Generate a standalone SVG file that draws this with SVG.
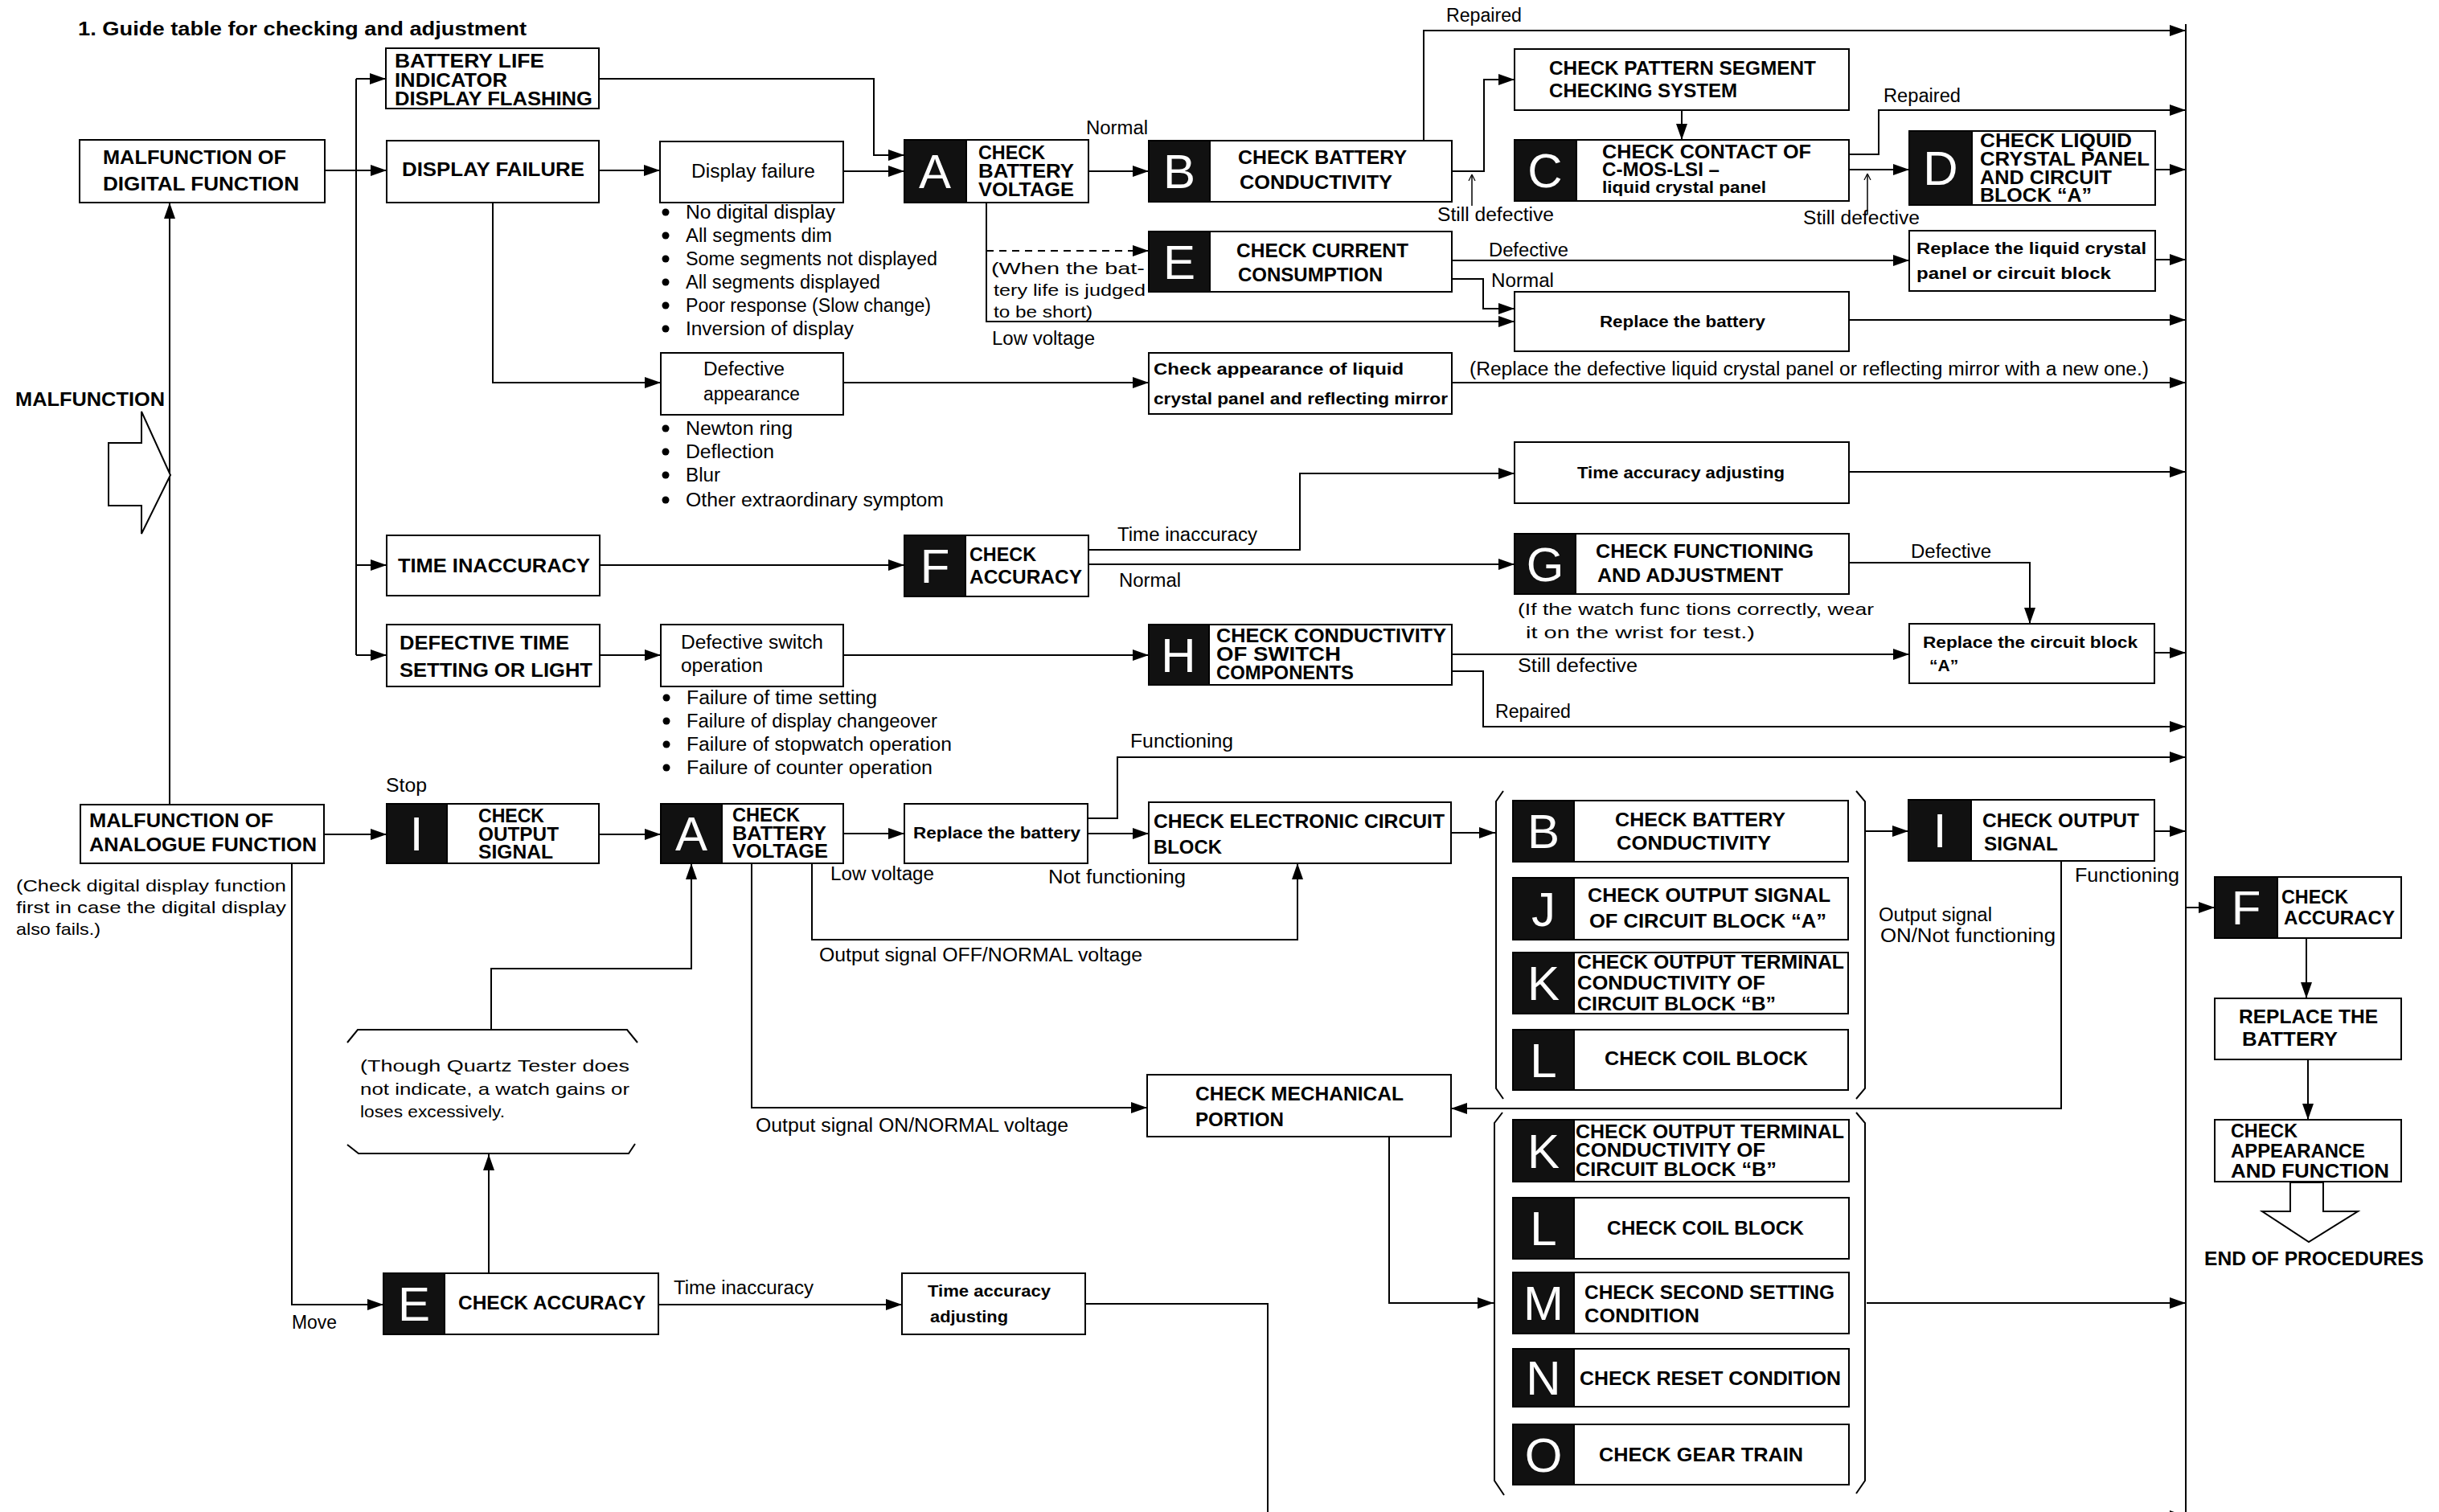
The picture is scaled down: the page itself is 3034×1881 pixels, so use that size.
<svg xmlns="http://www.w3.org/2000/svg" width="3034" height="1881" viewBox="0 0 3034 1881">
<defs>
<marker id="ar" viewBox="0 0 20 14" refX="20" refY="7" markerWidth="20" markerHeight="14" markerUnits="userSpaceOnUse" orient="auto"><path d="M0,0 L20,7 L0,14 z" fill="#000"/></marker>
<marker id="sm" viewBox="0 0 10 10" refX="10" refY="5" markerWidth="8" markerHeight="10" markerUnits="userSpaceOnUse" orient="auto"><path d="M0,0 L10,5 L0,10" fill="none" stroke="#000" stroke-width="1.5"/></marker>
</defs>
<style>
.box{fill:#fff;stroke:#000;stroke-width:2}
.blk{fill:#111;stroke:#000;stroke-width:2}
.ln{fill:none;stroke:#000;stroke-width:2}
.ar{marker-end:url(#ar)}
.dash{stroke-dasharray:9 7}
.b{font-family:"Liberation Sans",Arial,sans-serif;font-weight:bold;font-size:23px;fill:#000}
.r{font-family:"Liberation Sans",Arial,sans-serif;font-size:23px;fill:#000}
.s{font-size:21px}
.lt{font-family:"Liberation Sans",Arial,sans-serif;font-size:60px;fill:#fff;text-anchor:middle}
.hollow{fill:#fff;stroke:#000;stroke-width:2}
</style>
<rect width="3034" height="1881" fill="#fff"/>

<g id="title"><text class="b" x="97" y="44" font-size="25" textLength="558" lengthAdjust="spacingAndGlyphs">1.  Guide table for checking and adjustment</text></g>

<g id="connectors">
<path class="ln" d="M2719,30 V1881"/>
<path class="ln" d="M443,98 V815"/>
<path class="ln ar" d="M443,98 H480"/>
<path class="ln ar" d="M404,212 H481"/>
<path class="ln ar" d="M443,703 H481"/>
<path class="ln ar" d="M443,815 H481"/>
<path class="ln ar" d="M745,98 H1087 V193 H1125"/>
<path class="ln ar" d="M745,212 H821"/>
<path class="ln ar" d="M1049,213 H1125"/>
<path class="ln ar" d="M613,252 V476 H822"/>
<path class="ln ar" d="M1049,476 H1429"/>
<path class="ln ar" d="M1806,476 H2719"/>
<path class="ln ar" d="M1354,213 H1429"/>
<path class="ln ar" d="M1771,175 V38 H2719"/>
<path class="ln ar" d="M1806,213 H1846 V99 H1884"/>
<path class="ln" style="stroke-width:1.5;marker-end:url(#sm)" d="M1831,256 V217"/>
<path class="ln ar" d="M2092,137 V174"/>
<path class="ln ar" d="M2300,192 H2337 V137 H2719"/>
<path class="ln ar" d="M2300,211 H2375"/>
<path class="ln" style="stroke-width:1.5;marker-end:url(#sm)" d="M2323,266 V216"/>
<path class="ln ar" d="M2681,211 H2719"/>
<path class="ln ar" d="M1227,252 V400 H1884"/>
<path class="ln ar dash" d="M1227,312 H1429"/>
<path class="ln ar" d="M1806,324 H2375"/>
<path class="ln ar" d="M1806,347 H1845 V384 H1884"/>
<path class="ln ar" d="M2681,323 H2719"/>
<path class="ln ar" d="M2300,398 H2719"/>
<path class="ln ar" d="M2300,587 H2719"/>
<path class="ln ar" d="M746,703 H1125"/>
<path class="ln ar" d="M1354,684 H1617 V589 H1884"/>
<path class="ln ar" d="M1354,702 H1884"/>
<path class="ln ar" d="M2300,700 H2525 V776"/>
<path class="ln ar" d="M2680,812 H2719"/>
<path class="ln ar" d="M746,815 H822"/>
<path class="ln ar" d="M1049,815 H1429"/>
<path class="ln ar" d="M1806,814 H2375"/>
<path class="ln ar" d="M1806,835 H1845 V904 H2719"/>
<path class="ln ar" d="M1353,1018 H1390 V942 H2719"/>
<path class="ln ar" d="M211,1001 V252"/>
<path class="ln ar" d="M403,1038 H481"/>
<path class="ln ar" d="M745,1038 H822"/>
<path class="ln ar" d="M1049,1037 H1125"/>
<path class="ln ar" d="M1353,1037 H1429"/>
<path class="ln ar" d="M1010,1074 V1169 H1614 V1074"/>
<path class="ln ar" d="M935,1074 V1378 H1427"/>
<path class="ln ar" d="M1805,1036 H1860"/>
<path class="ln ar" d="M2321,1034 H2374"/>
<path class="ln ar" d="M2680,1034 H2719"/>
<path class="ln ar" d="M2564,1071 V1379 H1805"/>
<path class="ln ar" d="M1728,1414 V1621 H1858"/>
<path class="ln ar" d="M2322,1621 H2719"/>
<path class="ln ar" d="M2719,1129 H2755"/>
<path class="ln ar" d="M2869,1167 V1242"/>
<path class="ln ar" d="M2871,1318 V1393"/>
<path class="ln ar" d="M363,1074 V1623 H477"/>
<path class="ln ar" d="M608,1584 V1436"/>
<path class="ln ar" d="M611,1281 V1205 H860 V1074"/>
<path class="ln ar" d="M819,1623 H1122"/>
<path class="ln ar" d="M1350,1622 H1577 V1886 H2719"/>
</g>

<g id="labels">
<text class="r" x="1351" y="167" textLength="77" lengthAdjust="spacingAndGlyphs">Normal</text>
<text class="r" x="1799" y="27" textLength="94" lengthAdjust="spacingAndGlyphs">Repaired</text>
<text class="r" x="1788" y="275" textLength="145" lengthAdjust="spacingAndGlyphs">Still defective</text>
<text class="r" x="2343" y="127" textLength="96" lengthAdjust="spacingAndGlyphs">Repaired</text>
<text class="r" x="2243" y="279" textLength="145" lengthAdjust="spacingAndGlyphs">Still defective</text>
<text class="r" x="1852" y="319" textLength="99" lengthAdjust="spacingAndGlyphs">Defective</text>
<text class="r" x="1855" y="357" textLength="78" lengthAdjust="spacingAndGlyphs">Normal</text>
<text class="r" x="1234" y="429" textLength="128" lengthAdjust="spacingAndGlyphs">Low voltage</text>
<text class="r s" x="1233" y="341" textLength="191" lengthAdjust="spacingAndGlyphs">(When  the  bat-</text>
<text class="r s" x="1236" y="368" textLength="189" lengthAdjust="spacingAndGlyphs">tery life is judged</text>
<text class="r s" x="1236" y="395" textLength="123" lengthAdjust="spacingAndGlyphs">to be short)</text>
<text class="r" x="1828" y="467" textLength="845" lengthAdjust="spacingAndGlyphs">(Replace the defective liquid crystal panel or reflecting mirror with a new one.)</text>
<text class="r" x="1390" y="673" textLength="174" lengthAdjust="spacingAndGlyphs">Time inaccuracy</text>
<text class="r" x="1392" y="730" textLength="77" lengthAdjust="spacingAndGlyphs">Normal</text>
<text class="r" x="2377" y="694" textLength="100" lengthAdjust="spacingAndGlyphs">Defective</text>
<text class="r s" x="1888" y="765" textLength="443" lengthAdjust="spacingAndGlyphs">(If  the  watch  func tions correctly, wear</text>
<text class="r s" x="1898" y="794" textLength="285" lengthAdjust="spacingAndGlyphs">it  on  the  wrist  for  test.)</text>
<text class="r" x="1888" y="836" textLength="149" lengthAdjust="spacingAndGlyphs">Still defective</text>
<text class="r" x="1860" y="893" textLength="94" lengthAdjust="spacingAndGlyphs">Repaired</text>
<text class="r" x="1406" y="930" textLength="128" lengthAdjust="spacingAndGlyphs">Functioning</text>
<text class="r" x="480" y="985" textLength="51" lengthAdjust="spacingAndGlyphs">Stop</text>
<text class="r" x="1033" y="1095" textLength="129" lengthAdjust="spacingAndGlyphs">Low voltage</text>
<text class="r" x="1304" y="1099" textLength="171" lengthAdjust="spacingAndGlyphs">Not functioning</text>
<text class="r" x="1019" y="1196" textLength="402" lengthAdjust="spacingAndGlyphs">Output signal OFF/NORMAL voltage</text>
<text class="r" x="940" y="1408" textLength="389" lengthAdjust="spacingAndGlyphs">Output signal ON/NORMAL voltage</text>
<text class="r" x="2581" y="1097" textLength="130" lengthAdjust="spacingAndGlyphs">Functioning</text>
<text class="r" x="2337" y="1146" textLength="141" lengthAdjust="spacingAndGlyphs">Output signal</text>
<text class="r" x="2339" y="1172" textLength="218" lengthAdjust="spacingAndGlyphs">ON/Not functioning</text>
<text class="r" x="363" y="1653" textLength="56" lengthAdjust="spacingAndGlyphs">Move</text>
<text class="r" x="838" y="1610" textLength="174" lengthAdjust="spacingAndGlyphs">Time inaccuracy</text>
</g>

<g id="n_malfunction">
<text class="b" x="19" y="505" textLength="186" lengthAdjust="spacingAndGlyphs">MALFUNCTION</text>
<polygon class="hollow" points="135,551 176,551 176,512 212,591 176,664 176,629 135,629"/>
</g>

<g id="n_batlife">
<rect class="box" x="480" y="60" width="265" height="75"/>
<text class="b" x="491" y="84" textLength="186" lengthAdjust="spacingAndGlyphs">BATTERY LIFE</text>
<text class="b" x="491" y="108" textLength="140" lengthAdjust="spacingAndGlyphs">INDICATOR</text>
<text class="b" x="491" y="131" textLength="246" lengthAdjust="spacingAndGlyphs">DISPLAY FLASHING</text>
</g>

<g id="n_digital">
<rect class="box" x="99" y="174" width="305" height="78"/>
<text class="b" x="128" y="204" textLength="228" lengthAdjust="spacingAndGlyphs">MALFUNCTION OF</text>
<text class="b" x="128" y="237" textLength="244" lengthAdjust="spacingAndGlyphs">DIGITAL FUNCTION</text>
</g>

<g id="n_dispfail">
<rect class="box" x="481" y="175" width="264" height="77"/>
<text class="b" x="500" y="219" textLength="227" lengthAdjust="spacingAndGlyphs">DISPLAY FAILURE</text>
</g>

<g id="n_dispfail2">
<rect class="box" x="821" y="176" width="228" height="76"/>
<text class="r" x="860" y="221" textLength="154" lengthAdjust="spacingAndGlyphs">Display failure</text>
</g>

<g id="n_dispfail2_symptoms">
<circle cx="828" cy="264" r="4.5"/><text class="r" x="853" y="272" textLength="186" lengthAdjust="spacingAndGlyphs">No digital display</text>
<circle cx="828" cy="293" r="4.5"/><text class="r" x="853" y="301" textLength="182" lengthAdjust="spacingAndGlyphs">All segments dim</text>
<circle cx="828" cy="322" r="4.5"/><text class="r" x="853" y="330" textLength="313" lengthAdjust="spacingAndGlyphs">Some segments not displayed</text>
<circle cx="828" cy="351" r="4.5"/><text class="r" x="853" y="359" textLength="242" lengthAdjust="spacingAndGlyphs">All segments displayed</text>
<circle cx="828" cy="380" r="4.5"/><text class="r" x="853" y="388" textLength="305" lengthAdjust="spacingAndGlyphs">Poor response (Slow change)</text>
<circle cx="828" cy="409" r="4.5"/><text class="r" x="853" y="417" textLength="209" lengthAdjust="spacingAndGlyphs">Inversion of display</text>
</g>

<g id="n_defapp">
<rect class="box" x="822" y="439" width="227" height="77"/>
<text class="r" x="875" y="467" textLength="101" lengthAdjust="spacingAndGlyphs">Defective</text>
<text class="r" x="875" y="498" textLength="120" lengthAdjust="spacingAndGlyphs">appearance</text>
</g>

<g id="n_defapp_symptoms">
<circle cx="828" cy="533" r="4.5"/><text class="r" x="853" y="541" textLength="133" lengthAdjust="spacingAndGlyphs">Newton ring</text>
<circle cx="828" cy="562" r="4.5"/><text class="r" x="853" y="570" textLength="110" lengthAdjust="spacingAndGlyphs">Deflection</text>
<circle cx="828" cy="591" r="4.5"/><text class="r" x="853" y="599" textLength="43" lengthAdjust="spacingAndGlyphs">Blur</text>
<circle cx="828" cy="622" r="4.5"/><text class="r" x="853" y="630" textLength="321" lengthAdjust="spacingAndGlyphs">Other extraordinary symptom</text>
</g>

<g id="n_timeinacc">
<rect class="box" x="481" y="666" width="265" height="75"/>
<text class="b" x="495" y="712" textLength="239" lengthAdjust="spacingAndGlyphs">TIME INACCURACY</text>
</g>

<g id="n_deftime">
<rect class="box" x="481" y="777" width="265" height="77"/>
<text class="b" x="497" y="808" textLength="211" lengthAdjust="spacingAndGlyphs">DEFECTIVE TIME</text>
<text class="b" x="497" y="842" textLength="240" lengthAdjust="spacingAndGlyphs">SETTING OR LIGHT</text>
</g>

<g id="n_defswitch">
<rect class="box" x="822" y="777" width="227" height="77"/>
<text class="r" x="847" y="807" textLength="177" lengthAdjust="spacingAndGlyphs">Defective switch</text>
<text class="r" x="847" y="836" textLength="102" lengthAdjust="spacingAndGlyphs">operation</text>
</g>

<g id="n_defswitch_symptoms">
<circle cx="829" cy="868" r="4.5"/><text class="r" x="854" y="876" textLength="237" lengthAdjust="spacingAndGlyphs">Failure of time setting</text>
<circle cx="829" cy="897" r="4.5"/><text class="r" x="854" y="905" textLength="312" lengthAdjust="spacingAndGlyphs">Failure of display changeover</text>
<circle cx="829" cy="926" r="4.5"/><text class="r" x="854" y="934" textLength="330" lengthAdjust="spacingAndGlyphs">Failure of stopwatch operation</text>
<circle cx="829" cy="955" r="4.5"/><text class="r" x="854" y="963" textLength="306" lengthAdjust="spacingAndGlyphs">Failure of counter operation</text>
</g>

<g id="n_A1">
<rect class="box" x="1125" y="174" width="229" height="78"/>
<rect class="blk" x="1125" y="174" width="77" height="78"/>
<text class="lt" x="1163" y="234">A</text>
<text class="b" x="1217" y="198" textLength="83" lengthAdjust="spacingAndGlyphs">CHECK</text>
<text class="b" x="1217" y="221" textLength="119" lengthAdjust="spacingAndGlyphs">BATTERY</text>
<text class="b" x="1217" y="244" textLength="119" lengthAdjust="spacingAndGlyphs">VOLTAGE</text>
</g>

<g id="n_B1">
<rect class="box" x="1429" y="175" width="377" height="76"/>
<rect class="blk" x="1429" y="175" width="76" height="76"/>
<text class="lt" x="1467" y="234">B</text>
<text class="b" x="1540" y="204" textLength="210" lengthAdjust="spacingAndGlyphs">CHECK BATTERY</text>
<text class="b" x="1542" y="235" textLength="190" lengthAdjust="spacingAndGlyphs">CONDUCTIVITY</text>
</g>

<g id="n_pattern">
<rect class="box" x="1884" y="61" width="416" height="76"/>
<text class="b" x="1927" y="93" textLength="332" lengthAdjust="spacingAndGlyphs">CHECK PATTERN SEGMENT</text>
<text class="b" x="1927" y="121" textLength="234" lengthAdjust="spacingAndGlyphs">CHECKING SYSTEM</text>
</g>

<g id="n_C">
<rect class="box" x="1884" y="174" width="416" height="76"/>
<rect class="blk" x="1884" y="174" width="77" height="76"/>
<text class="lt" x="1922" y="233">C</text>
<text class="b" x="1993" y="197" textLength="260" lengthAdjust="spacingAndGlyphs">CHECK  CONTACT  OF</text>
<text class="b" x="1993" y="219" textLength="146" lengthAdjust="spacingAndGlyphs">C-MOS-LSI –</text>
<text class="b s" x="1993" y="240" textLength="204" lengthAdjust="spacingAndGlyphs">liquid crystal panel</text>
</g>

<g id="n_D">
<rect class="box" x="2375" y="163" width="306" height="92"/>
<rect class="blk" x="2375" y="163" width="78" height="92"/>
<text class="lt" x="2414" y="230">D</text>
<text class="b" x="2463" y="183" textLength="189" lengthAdjust="spacingAndGlyphs">CHECK  LIQUID</text>
<text class="b" x="2463" y="206" textLength="211" lengthAdjust="spacingAndGlyphs">CRYSTAL PANEL</text>
<text class="b" x="2463" y="229" textLength="164" lengthAdjust="spacingAndGlyphs">AND CIRCUIT</text>
<text class="b" x="2463" y="251" textLength="139" lengthAdjust="spacingAndGlyphs">BLOCK “A”</text>
</g>

<g id="n_E1">
<rect class="box" x="1429" y="288" width="377" height="75"/>
<rect class="blk" x="1429" y="288" width="76" height="75"/>
<text class="lt" x="1467" y="347">E</text>
<text class="b" x="1538" y="320" textLength="214" lengthAdjust="spacingAndGlyphs">CHECK CURRENT</text>
<text class="b" x="1540" y="350" textLength="180" lengthAdjust="spacingAndGlyphs">CONSUMPTION</text>
</g>

<g id="n_replcd">
<rect class="box" x="2375" y="287" width="306" height="75"/>
<text class="b s" x="2384" y="316" textLength="286" lengthAdjust="spacingAndGlyphs">Replace  the  liquid crystal</text>
<text class="b s" x="2384" y="347" textLength="242" lengthAdjust="spacingAndGlyphs">panel  or  circuit block</text>
</g>

<g id="n_repbat1">
<rect class="box" x="1884" y="363" width="416" height="74"/>
<text class="b s" x="1990" y="407" textLength="206" lengthAdjust="spacingAndGlyphs">Replace the battery</text>
</g>

<g id="n_chkapp">
<rect class="box" x="1429" y="439" width="377" height="76"/>
<text class="b s" x="1435" y="466" textLength="311" lengthAdjust="spacingAndGlyphs">Check  appearance  of  liquid</text>
<text class="b s" x="1435" y="503" textLength="366" lengthAdjust="spacingAndGlyphs">crystal  panel and reflecting mirror</text>
</g>

<g id="n_timeadj1">
<rect class="box" x="1884" y="550" width="416" height="76"/>
<text class="b s" x="1962" y="595" textLength="258" lengthAdjust="spacingAndGlyphs">Time accuracy adjusting</text>
</g>

<g id="n_F1">
<rect class="box" x="1125" y="666" width="229" height="76"/>
<rect class="blk" x="1125" y="666" width="76" height="76"/>
<text class="lt" x="1163" y="725">F</text>
<text class="b" x="1206" y="698" textLength="83" lengthAdjust="spacingAndGlyphs">CHECK</text>
<text class="b" x="1206" y="726" textLength="140" lengthAdjust="spacingAndGlyphs">ACCURACY</text>
</g>

<g id="n_G">
<rect class="box" x="1884" y="664" width="416" height="75"/>
<rect class="blk" x="1884" y="664" width="76" height="75"/>
<text class="lt" x="1922" y="723">G</text>
<text class="b" x="1985" y="694" textLength="271" lengthAdjust="spacingAndGlyphs">CHECK  FUNCTIONING</text>
<text class="b" x="1987" y="724" textLength="231" lengthAdjust="spacingAndGlyphs">AND ADJUSTMENT</text>
</g>

<g id="n_repcirc">
<rect class="box" x="2375" y="776" width="305" height="74"/>
<text class="b s" x="2392" y="806" textLength="267" lengthAdjust="spacingAndGlyphs">Replace the circuit block</text>
<text class="b s" x="2400" y="835">“A”</text>
</g>

<g id="n_H">
<rect class="box" x="1429" y="777" width="377" height="75"/>
<rect class="blk" x="1429" y="777" width="75" height="75"/>
<text class="lt" x="1466" y="836">H</text>
<text class="b" x="1513" y="799" textLength="286" lengthAdjust="spacingAndGlyphs">CHECK CONDUCTIVITY</text>
<text class="b" x="1513" y="822" textLength="155" lengthAdjust="spacingAndGlyphs">OF   SWITCH</text>
<text class="b" x="1513" y="845" textLength="171" lengthAdjust="spacingAndGlyphs">COMPONENTS</text>
</g>

<g id="n_analog">
<rect class="box" x="100" y="1001" width="303" height="73"/>
<text class="b" x="111" y="1029" textLength="229" lengthAdjust="spacingAndGlyphs">MALFUNCTION OF</text>
<text class="b" x="111" y="1059" textLength="283" lengthAdjust="spacingAndGlyphs">ANALOGUE FUNCTION</text>
</g>

<g id="n_analog_note">
<text class="r s" x="20" y="1109" textLength="336" lengthAdjust="spacingAndGlyphs">(Check digital display function</text>
<text class="r s" x="20" y="1136" textLength="336" lengthAdjust="spacingAndGlyphs">first in case the digital display</text>
<text class="r s" x="20" y="1163" textLength="105" lengthAdjust="spacingAndGlyphs">also fails.)</text>
</g>

<g id="n_I1">
<rect class="box" x="481" y="1000" width="264" height="74"/>
<rect class="blk" x="481" y="1000" width="75" height="74"/>
<text class="lt" x="518" y="1058">I</text>
<text class="b" x="595" y="1023" textLength="82" lengthAdjust="spacingAndGlyphs">CHECK</text>
<text class="b" x="595" y="1046" textLength="100" lengthAdjust="spacingAndGlyphs">OUTPUT</text>
<text class="b" x="595" y="1068" textLength="93" lengthAdjust="spacingAndGlyphs">SIGNAL</text>
</g>

<g id="n_A2">
<rect class="box" x="822" y="1000" width="227" height="74"/>
<rect class="blk" x="822" y="1000" width="76" height="74"/>
<text class="lt" x="860" y="1058">A</text>
<text class="b" x="911" y="1022" textLength="84" lengthAdjust="spacingAndGlyphs">CHECK</text>
<text class="b" x="911" y="1045" textLength="117" lengthAdjust="spacingAndGlyphs">BATTERY</text>
<text class="b" x="911" y="1067" textLength="119" lengthAdjust="spacingAndGlyphs">VOLTAGE</text>
</g>

<g id="n_repbat2">
<rect class="box" x="1125" y="1000" width="228" height="74"/>
<text class="b s" x="1136" y="1043" textLength="208" lengthAdjust="spacingAndGlyphs">Replace the battery</text>
</g>

<g id="n_elec">
<rect class="box" x="1429" y="998" width="376" height="76"/>
<text class="b" x="1435" y="1030" textLength="362" lengthAdjust="spacingAndGlyphs">CHECK  ELECTRONIC CIRCUIT</text>
<text class="b" x="1435" y="1062" textLength="85" lengthAdjust="spacingAndGlyphs">BLOCK</text>
</g>

<g id="brace1">
<path class="ln" d="M1870,984 L1861,997 V1354 L1870,1367"/>
<path class="ln" d="M2309,984 L2320,997 V1354 L2309,1367"/>
</g>

<g id="n_B2">
<rect class="box" x="1882" y="996" width="417" height="76"/>
<rect class="blk" x="1882" y="996" width="76" height="76"/>
<text class="lt" x="1920" y="1055">B</text>
<text class="b" x="2009" y="1028" textLength="212" lengthAdjust="spacingAndGlyphs">CHECK BATTERY</text>
<text class="b" x="2011" y="1057" textLength="192" lengthAdjust="spacingAndGlyphs">CONDUCTIVITY</text>
</g>

<g id="n_J">
<rect class="box" x="1882" y="1092" width="417" height="77"/>
<rect class="blk" x="1882" y="1092" width="76" height="77"/>
<text class="lt" x="1920" y="1152">J</text>
<text class="b" x="1975" y="1122" textLength="302" lengthAdjust="spacingAndGlyphs">CHECK  OUTPUT SIGNAL</text>
<text class="b" x="1977" y="1154" textLength="295" lengthAdjust="spacingAndGlyphs">OF CIRCUIT BLOCK “A”</text>
</g>

<g id="n_K1">
<rect class="box" x="1882" y="1185" width="417" height="76"/>
<rect class="blk" x="1882" y="1185" width="76" height="76"/>
<text class="lt" x="1920" y="1244">K</text>
<text class="b" x="1962" y="1205" textLength="332" lengthAdjust="spacingAndGlyphs">CHECK OUTPUT TERMINAL</text>
<text class="b" x="1962" y="1231" textLength="234" lengthAdjust="spacingAndGlyphs">CONDUCTIVITY OF</text>
<text class="b" x="1962" y="1257" textLength="247" lengthAdjust="spacingAndGlyphs">CIRCUIT BLOCK “B”</text>
</g>

<g id="n_L1">
<rect class="box" x="1882" y="1281" width="417" height="75"/>
<rect class="blk" x="1882" y="1281" width="76" height="75"/>
<text class="lt" x="1920" y="1340">L</text>
<text class="b" x="1996" y="1325" textLength="253" lengthAdjust="spacingAndGlyphs">CHECK  COIL BLOCK</text>
</g>

<g id="n_I2">
<rect class="box" x="2374" y="995" width="306" height="76"/>
<rect class="blk" x="2374" y="995" width="78" height="76"/>
<text class="lt" x="2413" y="1054">I</text>
<text class="b" x="2466" y="1029" textLength="195" lengthAdjust="spacingAndGlyphs">CHECK OUTPUT</text>
<text class="b" x="2468" y="1058" textLength="92" lengthAdjust="spacingAndGlyphs">SIGNAL</text>
</g>

<g id="n_F2">
<rect class="box" x="2755" y="1091" width="232" height="76"/>
<rect class="blk" x="2755" y="1091" width="78" height="76"/>
<text class="lt" x="2794" y="1150">F</text>
<text class="b" x="2838" y="1124" textLength="83" lengthAdjust="spacingAndGlyphs">CHECK</text>
<text class="b" x="2841" y="1150" textLength="138" lengthAdjust="spacingAndGlyphs">ACCURACY</text>
</g>

<g id="n_repbat3">
<rect class="box" x="2755" y="1242" width="232" height="76"/>
<text class="b" x="2785" y="1273" textLength="173" lengthAdjust="spacingAndGlyphs">REPLACE THE</text>
<text class="b" x="2789" y="1301" textLength="119" lengthAdjust="spacingAndGlyphs">BATTERY</text>
</g>

<g id="n_chkappfn">
<rect class="box" x="2755" y="1393" width="232" height="77"/>
<text class="b" x="2775" y="1415" textLength="83" lengthAdjust="spacingAndGlyphs">CHECK</text>
<text class="b" x="2775" y="1440" textLength="167" lengthAdjust="spacingAndGlyphs">APPEARANCE</text>
<text class="b" x="2775" y="1465" textLength="197" lengthAdjust="spacingAndGlyphs">AND FUNCTION</text>
</g>

<g id="n_end">
<polygon class="hollow" points="2849,1471 2849,1507 2814,1507 2872,1545 2933,1507 2890,1507 2890,1471"/>
<text class="b" x="2742" y="1574" font-size="24" textLength="273" lengthAdjust="spacingAndGlyphs">END OF PROCEDURES</text>
</g>

<g id="n_mech">
<rect class="box" x="1427" y="1337" width="378" height="77"/>
<text class="b" x="1487" y="1369" textLength="259" lengthAdjust="spacingAndGlyphs">CHECK MECHANICAL</text>
<text class="b" x="1487" y="1401" textLength="110" lengthAdjust="spacingAndGlyphs">PORTION</text>
</g>

<g id="brace2">
<path class="ln" d="M1869,1384 L1859,1397 V1842 L1871,1860"/>
<path class="ln" d="M2309,1384 L2320,1397 V1842 L2309,1858"/>
</g>

<g id="n_K2">
<rect class="box" x="1882" y="1393" width="418" height="77"/>
<rect class="blk" x="1882" y="1393" width="76" height="77"/>
<text class="lt" x="1920" y="1453">K</text>
<text class="b" x="1960" y="1416" textLength="334" lengthAdjust="spacingAndGlyphs">CHECK OUTPUT TERMINAL</text>
<text class="b" x="1960" y="1439" textLength="236" lengthAdjust="spacingAndGlyphs">CONDUCTIVITY OF</text>
<text class="b" x="1960" y="1463" textLength="250" lengthAdjust="spacingAndGlyphs">CIRCUIT BLOCK “B”</text>
</g>

<g id="n_L2">
<rect class="box" x="1882" y="1490" width="418" height="76"/>
<rect class="blk" x="1882" y="1490" width="76" height="76"/>
<text class="lt" x="1920" y="1549">L</text>
<text class="b" x="1999" y="1536" textLength="245" lengthAdjust="spacingAndGlyphs">CHECK COIL BLOCK</text>
</g>

<g id="n_M">
<rect class="box" x="1882" y="1583" width="418" height="76"/>
<rect class="blk" x="1882" y="1583" width="76" height="76"/>
<text class="lt" x="1920" y="1642">M</text>
<text class="b" x="1971" y="1616" textLength="311" lengthAdjust="spacingAndGlyphs">CHECK SECOND SETTING</text>
<text class="b" x="1971" y="1645" textLength="143" lengthAdjust="spacingAndGlyphs">CONDITION</text>
</g>

<g id="n_N">
<rect class="box" x="1882" y="1678" width="418" height="72"/>
<rect class="blk" x="1882" y="1678" width="76" height="72"/>
<text class="lt" x="1920" y="1735">N</text>
<text class="b" x="1965" y="1723" textLength="325" lengthAdjust="spacingAndGlyphs">CHECK RESET CONDITION</text>
</g>

<g id="n_O">
<rect class="box" x="1882" y="1772" width="418" height="75"/>
<rect class="blk" x="1882" y="1772" width="76" height="75"/>
<text class="lt" x="1920" y="1831">O</text>
<text class="b" x="1989" y="1818" textLength="254" lengthAdjust="spacingAndGlyphs">CHECK GEAR TRAIN</text>
</g>

<g id="n_quartz">
<path class="ln" d="M432,1297 L445,1281 H780 L793,1297"/>
<path class="ln" d="M432,1424 L446,1435 H782 L790,1423"/>
<text class="r s" x="448" y="1333" textLength="335" lengthAdjust="spacingAndGlyphs">(Though  Quartz  Tester  does</text>
<text class="r s" x="448" y="1362" textLength="335" lengthAdjust="spacingAndGlyphs">not  indicate,  a  watch gains or</text>
<text class="r s" x="448" y="1390" textLength="180" lengthAdjust="spacingAndGlyphs">loses excessively.</text>
</g>

<g id="n_E2">
<rect class="box" x="477" y="1584" width="342" height="76"/>
<rect class="blk" x="477" y="1584" width="76" height="76"/>
<text class="lt" x="515" y="1643">E</text>
<text class="b" x="570" y="1629" textLength="233" lengthAdjust="spacingAndGlyphs">CHECK ACCURACY</text>
</g>

<g id="n_timeadj2">
<rect class="box" x="1122" y="1584" width="228" height="76"/>
<text class="b s" x="1154" y="1613" textLength="153" lengthAdjust="spacingAndGlyphs">Time accuracy</text>
<text class="b s" x="1157" y="1645" textLength="97" lengthAdjust="spacingAndGlyphs">adjusting</text>
</g>
</svg>
